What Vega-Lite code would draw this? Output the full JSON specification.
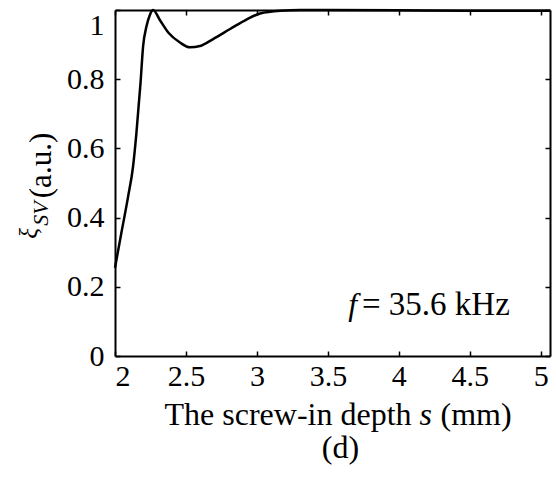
{
  "$schema": "https://vega.github.io/schema/vega-lite/v6.json",
  "width": 435,
  "height": 346,
  "autosize": "none",
  "padding": {"left": 115, "top": 10, "right": 6, "bottom": 121},
  "background": "white",
  "config": {
    "view": {"stroke": null},
    "font": "Liberation Serif",
    "axis": {
      "labelFont": "Liberation Serif",
      "titleFont": "Liberation Serif",
      "labelColor": "black",
      "titleColor": "black",
      "domainColor": "black",
      "tickColor": "black",
      "grid": false,
      "titleFontWeight": "normal",
      "domainWidth": 2,
      "tickWidth": 1.5
    }
  },
  "datasets": {
    "curve": [
      {"s": 2.0, "xi": 0.255},
      {"s": 2.045, "xi": 0.356},
      {"s": 2.092, "xi": 0.46},
      {"s": 2.127, "xi": 0.547},
      {"s": 2.151, "xi": 0.645},
      {"s": 2.18, "xi": 0.79},
      {"s": 2.198, "xi": 0.895},
      {"s": 2.222, "xi": 0.953},
      {"s": 2.245, "xi": 0.985},
      {"s": 2.269, "xi": 1.0},
      {"s": 2.316, "xi": 0.971},
      {"s": 2.375, "xi": 0.935},
      {"s": 2.458, "xi": 0.906},
      {"s": 2.528, "xi": 0.892},
      {"s": 2.599, "xi": 0.896},
      {"s": 2.691, "xi": 0.916},
      {"s": 2.811, "xi": 0.945},
      {"s": 2.929, "xi": 0.973},
      {"s": 3.023, "xi": 0.99},
      {"s": 3.165, "xi": 0.998},
      {"s": 3.306, "xi": 1.0},
      {"s": 3.5, "xi": 1.0},
      {"s": 4.0, "xi": 0.999},
      {"s": 4.5, "xi": 0.998},
      {"s": 5.065, "xi": 0.998}
    ],
    "note": [{"a": 1}]
  },
  "layer": [
    {
      "data": {"name": "curve"},
      "mark": {"type": "line", "color": "black", "strokeWidth": 2.5, "interpolate": "monotone"},
      "encoding": {
        "x": {
          "field": "s", "type": "quantitative",
          "scale": {"domain": [2, 5.065], "nice": false, "zero": false},
          "axis": {
            "orient": "bottom",
            "values": [2, 2.5, 3, 3.5, 4, 4.5, 5],
            "format": "~g",
            "tickSize": -5,
            "labelFontSize": 30,
            "labelPadding": 10,
            "labelAlign": {"condition": {"test": "datum.value == 2", "value": "left"}, "value": "center"},
            "title": "The screw-in depth",
            "titleFontSize": 32,
            "titleAlign": "left",
            "titleBaseline": "alphabetic",
            "titleX": 49,
            "titleY": 68
          }
        },
        "y": {
          "field": "xi", "type": "quantitative",
          "scale": {"domain": [0, 1], "nice": false},
          "axis": {
            "orient": "left",
            "values": [0, 0.2, 0.4, 0.6, 0.8, 1],
            "format": "~g",
            "tickSize": -5,
            "labelFontSize": 30,
            "labelPadding": 16,
            "labelBaseline": {"condition": {"test": "datum.value == 1", "value": "top"}, "value": "middle"},
            "title": "(a.u.)",
            "titleFontSize": 31,
            "titleAngle": -90,
            "titleAlign": "center",
            "titleBaseline": "alphabetic",
            "titleX": -65,
            "titleY": 155
          }
        }
      }
    },
    {
      "data": {"name": "curve"},
      "mark": {"type": "line", "strokeOpacity": 0},
      "encoding": {
        "x": {
          "field": "s", "type": "quantitative",
          "scale": {"domain": [2, 5.065], "nice": false, "zero": false},
          "axis": {"orient": "top", "values": [2, 2.5, 3, 3.5, 4, 4.5, 5], "labels": false, "tickSize": -5, "title": null}
        },
        "y": {
          "field": "xi", "type": "quantitative",
          "scale": {"domain": [0, 1], "nice": false},
          "axis": {"orient": "right", "values": [0, 0.2, 0.4, 0.6, 0.8, 1], "labels": false, "tickSize": -5, "title": null}
        }
      }
    },
    {
      "data": {"name": "curve"},
      "mark": {"type": "line", "strokeOpacity": 0},
      "encoding": {
        "x": {
          "field": "s", "type": "quantitative",
          "scale": {"domain": [2, 5.065], "nice": false, "zero": false},
          "axis": {
            "orient": "bottom", "labels": false, "ticks": false, "domain": false,
            "title": "s", "titleFontSize": 32, "titleFontStyle": "italic",
            "titleAlign": "left", "titleBaseline": "alphabetic",
            "titleX": 304, "titleY": 68
          }
        },
        "y": {
          "field": "xi", "type": "quantitative",
          "scale": {"domain": [0, 1], "nice": false},
          "axis": {
            "orient": "left", "labels": false, "ticks": false, "domain": false,
            "title": "SV", "titleFontSize": 22, "titleFontStyle": "italic",
            "titleAngle": -90, "titleAlign": "center", "titleBaseline": "alphabetic",
            "titleX": -68, "titleY": 203
          }
        }
      }
    },
    {
      "data": {"name": "curve"},
      "mark": {"type": "line", "strokeOpacity": 0},
      "encoding": {
        "x": {
          "field": "s", "type": "quantitative",
          "scale": {"domain": [2, 5.065], "nice": false, "zero": false},
          "axis": {
            "orient": "bottom", "labels": false, "ticks": false, "domain": false,
            "title": "(mm)", "titleFontSize": 32,
            "titleAlign": "left", "titleBaseline": "alphabetic",
            "titleX": 325, "titleY": 68
          }
        },
        "y": {
          "field": "xi", "type": "quantitative",
          "scale": {"domain": [0, 1], "nice": false},
          "axis": {
            "orient": "left", "labels": false, "ticks": false, "domain": false,
            "title": "ξ", "titleFontSize": 25, "titleFontStyle": "italic",
            "titleAngle": -90, "titleAlign": "center", "titleBaseline": "alphabetic",
            "titleX": -79, "titleY": 223
          }
        }
      }
    },
    {
      "data": {"name": "curve"},
      "mark": {"type": "line", "strokeOpacity": 0},
      "encoding": {
        "x": {
          "field": "s", "type": "quantitative",
          "scale": {"domain": [2, 5.065], "nice": false, "zero": false},
          "axis": {
            "orient": "bottom", "labels": false, "ticks": false, "domain": false,
            "title": "(d)", "titleFontSize": 32,
            "titleAlign": "center", "titleBaseline": "alphabetic",
            "titleX": 225, "titleY": 101
          }
        },
        "y": {
          "field": "xi", "type": "quantitative",
          "scale": {"domain": [0, 1], "nice": false},
          "axis": null
        }
      }
    },
    {
      "data": {"name": "note"},
      "mark": {"type": "text", "text": "f", "fontStyle": "italic", "fontSize": 32, "font": "Liberation Serif", "align": "left", "baseline": "alphabetic", "color": "black"},
      "encoding": {
        "x": {"datum": 3.644, "type": "quantitative", "scale": {"domain": [2, 5.065], "nice": false, "zero": false}, "axis": null},
        "y": {"datum": 0.1185, "type": "quantitative", "scale": {"domain": [0, 1], "nice": false}, "axis": null}
      }
    },
    {
      "data": {"name": "note"},
      "mark": {"type": "text", "text": "= 35.6 kHz", "fontSize": 33, "font": "Liberation Serif", "align": "left", "baseline": "alphabetic", "color": "black"},
      "encoding": {
        "x": {"datum": 3.74, "type": "quantitative", "scale": {"domain": [2, 5.065], "nice": false, "zero": false}, "axis": null},
        "y": {"datum": 0.1185, "type": "quantitative", "scale": {"domain": [0, 1], "nice": false}, "axis": null}
      }
    }
  ],
  "resolve": {"axis": {"x": "independent", "y": "independent"}}
}
